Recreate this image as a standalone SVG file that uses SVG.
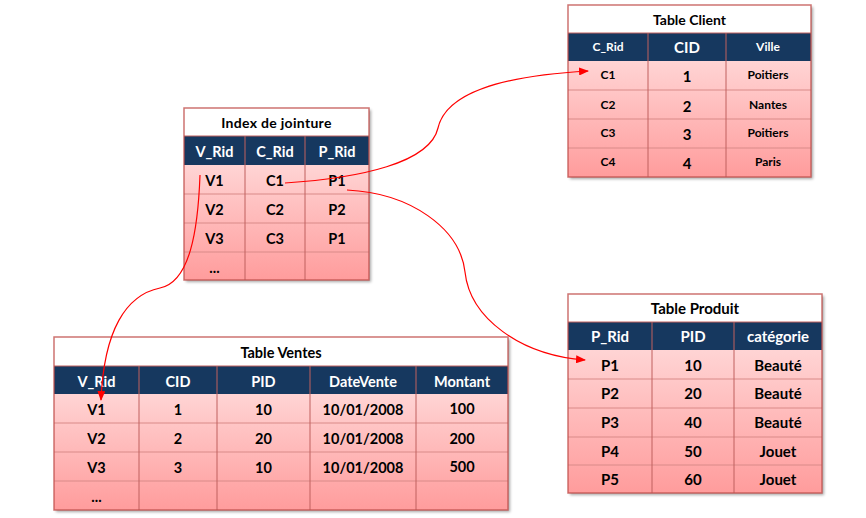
<svg xmlns="http://www.w3.org/2000/svg" width="866" height="518" viewBox="0 0 866 518">
<style>
.t{font-family:Lato,"Liberation Sans",sans-serif;font-weight:bold;text-anchor:middle;dominant-baseline:central;fill:#000}
.h{fill:#fff}
.ttl{fill:#fff}
.hdr{fill:#17375E}
.body{fill:url(#pink)}
.rl{stroke:#D98A88;stroke-width:1;fill:none}
.vl{stroke:#C0605E;stroke-width:1;fill:none}
.ob{fill:none;stroke:#C0504D;stroke-width:1.5;stroke-opacity:0.8}
.conn{fill:none;stroke:#FF0000;stroke-width:1.2}
</style>
<defs>
<linearGradient id="pink" x1="0" y1="0" x2="0" y2="1">
<stop offset="0" stop-color="#FFD4D4"/>
<stop offset="1" stop-color="#FF9C9C"/>
</linearGradient>
<filter id="sh" x="-5%" y="-5%" width="115%" height="115%">
<feDropShadow dx="2" dy="2" stdDeviation="1.5" flood-color="#000" flood-opacity="0.35"/>
</filter>
<marker id="arr" markerWidth="10" markerHeight="8" refX="9" refY="4" orient="auto" markerUnits="userSpaceOnUse">
<path d="M0,0 L10,4 L0,8 Z" fill="#FF0000"/>
</marker>
</defs>

<g id="table-client">
<g filter="url(#sh)">
<rect x="568" y="5" width="243" height="28" class="ttl"/>
<rect x="568" y="33" width="243" height="28" class="hdr"/>
<rect x="568" y="61" width="243" height="116" class="body"/>
</g>
<path class="rl" d="M568,90H811M568,119H811M568,148H811"/>
<path class="vl" d="M648,33V177M726,33V177"/>
<path class="vl" d="M568,33H811"/>
<rect x="568" y="5" width="243" height="172" class="ob"/>
<text class="t" x="689.5" y="19" font-size="14">Table Client</text>
<text class="t h" x="608" y="46" font-size="12">C_Rid</text>
<text class="t h" x="687" y="47" font-size="15">CID</text>
<text class="t h" x="768" y="46" font-size="12">Ville</text>
<text class="t" x="608" y="74" font-size="12">C1</text>
<text class="t" x="687" y="76" font-size="15">1</text>
<text class="t" x="768" y="74" font-size="12">Poitiers</text>
<text class="t" x="608" y="104" font-size="12">C2</text>
<text class="t" x="687" y="106" font-size="15">2</text>
<text class="t" x="768" y="104" font-size="12">Nantes</text>
<text class="t" x="608" y="132" font-size="12">C3</text>
<text class="t" x="687" y="134" font-size="15">3</text>
<text class="t" x="768" y="132" font-size="12">Poitiers</text>
<text class="t" x="608" y="161" font-size="12">C4</text>
<text class="t" x="687" y="163" font-size="15">4</text>
<text class="t" x="768" y="161" font-size="12">Paris</text>
</g>

<g id="index-jointure">
<g filter="url(#sh)">
<rect x="184" y="108" width="185" height="28" class="ttl"/>
<rect x="184" y="136" width="185" height="29" class="hdr"/>
<rect x="184" y="165" width="185" height="115" class="body"/>
</g>
<path class="rl" d="M184,194H369M184,223H369M184,252H369"/>
<path class="vl" d="M245,136V280M305,136V280"/>
<path class="vl" d="M184,136H369"/>
<rect x="184" y="108" width="185" height="172" class="ob"/>
<text class="t" x="276.5" y="122" font-size="14" letter-spacing="0.3">Index de jointure</text>
<text class="t h" x="214.5" y="151" font-size="14.5">V_Rid</text>
<text class="t h" x="275" y="151" font-size="14.5">C_Rid</text>
<text class="t h" x="337" y="151" font-size="14.5">P_Rid</text>
<text class="t" x="214.5" y="180" font-size="14.5">V1</text>
<text class="t" x="275" y="180" font-size="14.5">C1</text>
<text class="t" x="337" y="180" font-size="14.5">P1</text>
<text class="t" x="214.5" y="209" font-size="14.5">V2</text>
<text class="t" x="275" y="209" font-size="14.5">C2</text>
<text class="t" x="337" y="209" font-size="14.5">P2</text>
<text class="t" x="214.5" y="238" font-size="14.5">V3</text>
<text class="t" x="275" y="238" font-size="14.5">C3</text>
<text class="t" x="337" y="238" font-size="14.5">P1</text>
<text class="t" x="214.5" y="267" font-size="14.5">...</text>
</g>

<g id="table-ventes">
<g filter="url(#sh)">
<rect x="54" y="337" width="454" height="29" class="ttl"/>
<rect x="54" y="366" width="454" height="28" class="hdr"/>
<rect x="54" y="394" width="454" height="116" class="body"/>
</g>
<path class="rl" d="M54,423H508M54,452H508M54,481H508"/>
<path class="vl" d="M139,366V510M217,366V510M310,366V510M416,366V510"/>
<path class="vl" d="M54,366H508"/>
<rect x="54" y="337" width="454" height="173" class="ob"/>
<text class="t" x="281" y="352" font-size="14.5">Table Ventes</text>
<text class="t h" x="96.5" y="381" font-size="14.5">V_Rid</text>
<text class="t h" x="178" y="381" font-size="14.5">CID</text>
<text class="t h" x="263.5" y="381" font-size="14.5">PID</text>
<text class="t h" x="363" y="381" font-size="14.5">DateVente</text>
<text class="t h" x="462" y="381" font-size="14.5">Montant</text>
<text class="t" x="96.5" y="409" font-size="14.5">V1</text>
<text class="t" x="178" y="409" font-size="14.5">1</text>
<text class="t" x="263.5" y="409" font-size="14.5">10</text>
<text class="t" x="363" y="409" font-size="14.5">10/01/2008</text>
<text class="t" x="462" y="408" font-size="14.5">100</text>
<text class="t" x="96.5" y="438" font-size="14.5">V2</text>
<text class="t" x="178" y="438" font-size="14.5">2</text>
<text class="t" x="263.5" y="438" font-size="14.5">20</text>
<text class="t" x="363" y="438" font-size="14.5">10/01/2008</text>
<text class="t" x="462" y="438" font-size="14.5">200</text>
<text class="t" x="96.5" y="467" font-size="14.5">V3</text>
<text class="t" x="178" y="467" font-size="14.5">3</text>
<text class="t" x="263.5" y="467" font-size="14.5">10</text>
<text class="t" x="363" y="467" font-size="14.5">10/01/2008</text>
<text class="t" x="462" y="466" font-size="14.5">500</text>
<text class="t" x="96.5" y="496" font-size="14.5">...</text>
</g>

<g id="table-produit">
<g filter="url(#sh)">
<rect x="568" y="294" width="254" height="28" class="ttl"/>
<rect x="568" y="322" width="254" height="28" class="hdr"/>
<rect x="568" y="350" width="254" height="143" class="body"/>
</g>
<path class="rl" d="M568,379H822M568,408H822M568,437H822M568,465H822"/>
<path class="vl" d="M652,322V493M734,322V493"/>
<path class="vl" d="M568,322H822"/>
<rect x="568" y="294" width="254" height="199" class="ob"/>
<text class="t" x="695" y="308" font-size="15">Table Produit</text>
<text class="t h" x="610" y="336" font-size="15">P_Rid</text>
<text class="t h" x="693" y="336" font-size="15">PID</text>
<text class="t h" x="778" y="336" font-size="15">catégorie</text>
<text class="t" x="610" y="365" font-size="15">P1</text>
<text class="t" x="693" y="365" font-size="15">10</text>
<text class="t" x="778" y="365" font-size="15">Beauté</text>
<text class="t" x="610" y="393" font-size="15">P2</text>
<text class="t" x="693" y="393" font-size="15">20</text>
<text class="t" x="778" y="393" font-size="15">Beauté</text>
<text class="t" x="610" y="422" font-size="15">P3</text>
<text class="t" x="693" y="422" font-size="15">40</text>
<text class="t" x="778" y="422" font-size="15">Beauté</text>
<text class="t" x="610" y="451" font-size="15">P4</text>
<text class="t" x="693" y="451" font-size="15">50</text>
<text class="t" x="778" y="451" font-size="15">Jouet</text>
<text class="t" x="610" y="479" font-size="15">P5</text>
<text class="t" x="693" y="479" font-size="15">60</text>
<text class="t" x="778" y="479" font-size="15">Jouet</text>
</g>

<g id="connectors">
<path class="conn" marker-end="url(#arr)" d="M285,183 C360,178 430,163 438,128 C446,93 500,76 588,71"/>
<path class="conn" marker-end="url(#arr)" d="M347,190 C410,193 460,228 465,272 C470,318 520,355 585,360"/>
<path class="conn" marker-end="url(#arr)" d="M200,175 C198,230 190,282 160,288 C126,295 104,330 101,400"/>
</g>
</svg>
